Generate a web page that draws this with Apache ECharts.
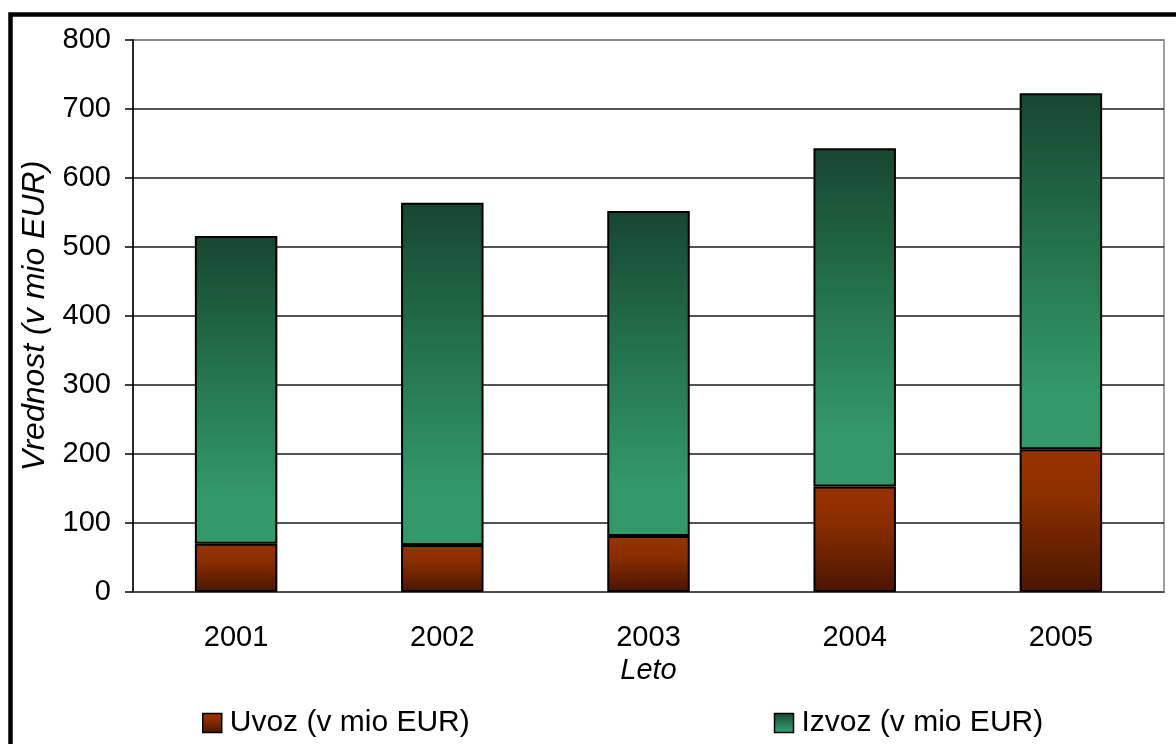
<!DOCTYPE html>
<html>
<head>
<meta charset="utf-8">
<script src="https://cdn.jsdelivr.net/npm/echarts@6/dist/echarts.min.js"></script>
<style>
html,body{margin:0;padding:0;background:#fff;}
#chart{width:1176px;height:744px;}
</style>
</head>
<body>
<div id="chart"></div>
<script>
var categories = ['2001', '2002', '2003', '2004', '2005'];
var uvoz = [70, 68, 81, 153, 207];
var izvoz = [446, 496, 471, 490, 516];
var yTicks = [0, 100, 200, 300, 400, 500, 600, 700, 800];
var seriesNames = ['Uvoz (v mio EUR)', 'Izvoz (v mio EUR)'];

var FONT = "'Liberation Sans', Arial, sans-serif";
var chart = echarts.init(document.getElementById('chart'), null, {renderer: 'canvas'});

var splitColors = yTicks.map(function (v, i) { return i === yTicks.length - 1 ? '#808080' : '#1a1a1a'; });

var option = {
  backgroundColor: '#fff',
  animation: false,
  textStyle: {fontFamily: FONT},
  grid: {left: 133, right: 12, top: 40, bottom: 152, show: true, borderColor: '#808080', borderWidth: 1.5, backgroundColor: 'transparent'},
  graphic: [{
    type: 'rect', left: 8, top: 12, z: 100, silent: true,
    shape: {x: 0, y: 0, width: 1200, height: 800},
    style: {fill: 'none', stroke: '#000', lineWidth: 4.5}
  }],
  legend: {
    left: 197, top: 703, itemWidth: 19, itemHeight: 19, itemGap: 304,
    icon: 'rect',
    itemStyle: {borderColor: '#000', borderWidth: 1.5},
    textStyle: {fontSize: 30, color: '#000', fontFamily: FONT, padding: [0, 0, 0, 3]},
    data: seriesNames
  },
  xAxis: {
    type: 'category', data: categories,
    name: 'Leto', nameLocation: 'middle', nameGap: 60,
    nameTextStyle: {fontSize: 29, fontStyle: 'italic', color: '#000', fontFamily: FONT},
    axisLine: {lineStyle: {color: '#555', width: 1.5}},
    axisTick: {length: 8, lineStyle: {color: '#555', width: 1.5}},
    axisLabel: {fontSize: 29, color: '#000', margin: 31, fontFamily: FONT}
  },
  yAxis: {
    type: 'value', min: 0, max: 800, interval: 100,
    name: 'Vrednost (v mio EUR)', nameLocation: 'middle', nameGap: 82,
    nameTextStyle: {fontSize: 32, fontStyle: 'italic', color: '#000', fontFamily: FONT},
    axisLine: {show: true, lineStyle: {color: '#000', width: 1.5}},
    axisTick: {show: true, length: 8, lineStyle: {color: '#000', width: 1.5}},
    axisLabel: {fontSize: 29, color: '#000', margin: 22, fontFamily: FONT},
    splitLine: {show: true, lineStyle: {color: splitColors, width: 1.5}}
  },
  series: [{
    name: seriesNames[0], type: 'bar', stack: 'total', data: uvoz, barWidth: '40%',
    itemStyle: {
      borderColor: '#000', borderWidth: 2,
      color: new echarts.graphic.LinearGradient(0, 0, 0, 1, [
        {offset: 0, color: '#993300'},
        {offset: 0.35, color: '#8a2e00'},
        {offset: 1, color: '#4a1600'}
      ])
    }
  }, {
    name: seriesNames[1], type: 'bar', stack: 'total', data: izvoz, barWidth: '40%',
    itemStyle: {
      borderColor: '#000', borderWidth: 2,
      color: new echarts.graphic.LinearGradient(0, 0, 0, 1, [
        {offset: 0, color: '#17472f'},
        {offset: 0.45, color: '#257450'},
        {offset: 0.85, color: '#33996a'},
        {offset: 1, color: '#33996a'}
      ])
    }
  }]
};
chart.setOption(option);
</script>
</body>
</html>
